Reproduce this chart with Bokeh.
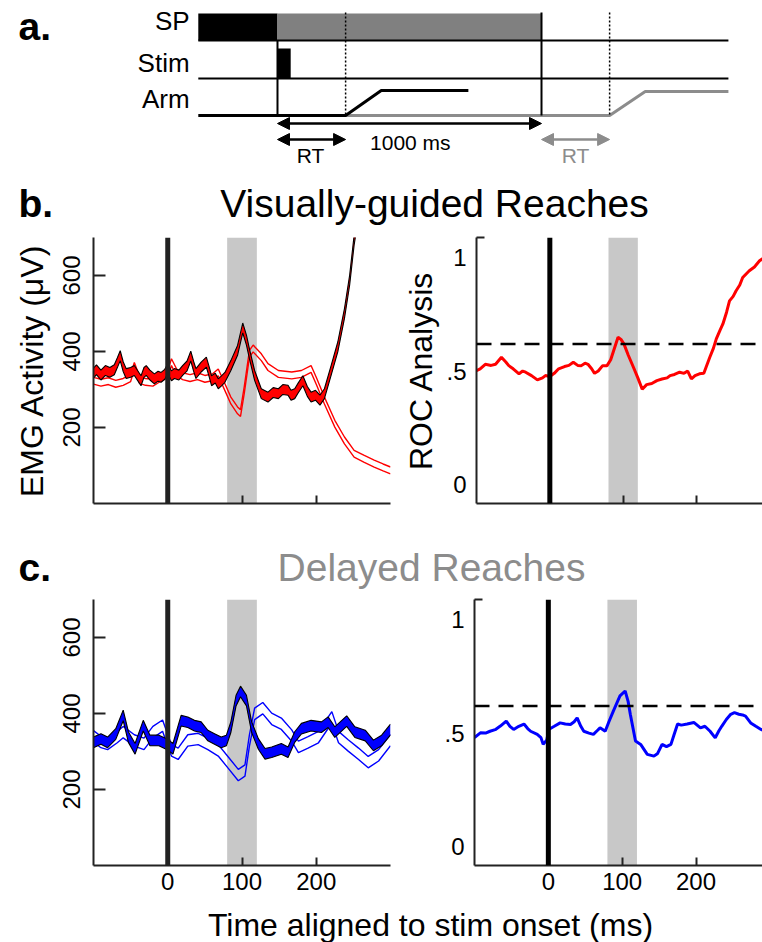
from bokeh.plotting import figure
from bokeh.layouts import column, row
from bokeh.models import Range1d, Span, BoxAnnotation, Label, FixedTicker, Arrow, NormalHead
from bokeh.embed import file_html
from bokeh.resources import INLINE

FONT = "Liberation Sans"

# ---------------- data ----------------
# panel a: timing diagram (ms)
pre_start = -300
stim_on = 0
stim_off = 50
rt_ms = 258
move_ms = 135
sp_end = 1000
arm_stop = 723
trace_end = 1708

# panel b: visually-guided reaches
t_b_fill = [-100, -96, -90, -84, -78, -72, -68, -64, -60, -56, -50, -45, -40, -36, -32, -29, -24, -18, -13, -9, -4,
            0, 5, 9, 15, 20, 26, 31, 35, 38, 45, 52, 56, 59, 64, 68, 72, 77, 85, 94, 101, 106, 110, 117, 126, 135,
            142, 149, 155, 162, 166, 171, 176, 182, 188, 193, 199, 205, 211, 220, 229, 238, 245, 251, 258, 265, 275, 300]
emg_b_fill = [343, 352, 338, 350, 345, 352, 370, 389, 360, 342, 345, 350, 335, 323, 345, 350, 338, 328, 335, 332, 340,
              355, 336, 342, 338, 350, 362, 388, 360, 342, 359, 372, 345, 323, 330, 315, 322, 332, 363, 403, 462, 430, 394, 337, 289, 280,
              292, 289, 300, 298, 285, 289, 305, 323, 295, 280, 285, 272, 289, 350, 412, 500, 588, 693, 780, 880, 1000, 1300]
emg_b_fill_se = 13

t_b_thin = [-100, -90, -80, -70, -60, -50, -45, -38, -30, -20, -10, 0, 5, 12, 20, 30, 40, 50, 60, 68, 77, 85, 94, 98,
            103, 110, 115, 126, 135, 149, 167, 180, 193, 200, 211, 225, 238, 251, 264, 278, 290, 300]
emg_b_thin = [323, 318, 322, 315, 320, 330, 362, 325, 320, 318, 330, 340, 372, 345, 335, 330, 335, 328, 332, 345, 306,
              271, 245, 238, 298, 394, 408, 385, 359, 341, 337, 341, 354, 323, 271, 210, 166, 131, 118, 105, 95, 87]
emg_b_thin_se = 9

t_roc_b = [-100, -95, -88, -80, -74, -66, -60, -56, -50, -42, -37, -33, -25, -17, -10, -6, 0, 6, 12, 20,
           26, 32, 38, 43, 48, 52, 57, 61, 66, 72, 78, 83, 87, 93, 97, 101, 107, 114, 120, 126,
           132, 139, 146, 153, 160, 164, 170, 177, 183, 188, 193, 198, 204, 210, 218, 223, 227, 232, 236, 241,
           245, 250, 254, 259, 263, 268, 272, 279, 286, 290, 300]
roc_b = [0.502, 0.51, 0.53, 0.525, 0.53, 0.561, 0.54, 0.524, 0.51, 0.488, 0.5, 0.495, 0.48, 0.461, 0.47, 0.48, 0.476, 0.49, 0.51, 0.52,
         0.525, 0.539, 0.525, 0.524, 0.535, 0.53, 0.51, 0.49, 0.5, 0.524, 0.524, 0.55, 0.59, 0.649, 0.64, 0.62, 0.57, 0.517, 0.47, 0.42,
         0.44, 0.445, 0.458, 0.465, 0.47, 0.48, 0.485, 0.495, 0.49, 0.5, 0.465, 0.48, 0.488, 0.49, 0.56, 0.6, 0.642, 0.68, 0.708, 0.76,
         0.81, 0.83, 0.855, 0.88, 0.913, 0.93, 0.943, 0.96, 0.987, 0.996, 1.0]

# panel c: delayed reaches
t_c_fill = [-100, -90, -81, -70, -60, -53, -44, -33, -24, -12, 0, 7, 18, 27, 36, 45, 54, 63, 72, 79,
            85, 92, 98, 106, 113, 122, 131, 140, 153, 162, 171, 180, 193, 207, 216, 225, 241, 252, 266, 277, 288, 300]
emg_c_fill = [324, 333, 324, 346, 395, 338, 307, 368, 329, 329, 318, 307, 381, 377, 368, 364, 342, 333, 324, 329,
              364, 434, 458, 434, 364, 320, 294, 298, 307, 298, 338, 360, 368, 364, 377, 351, 380, 351, 342, 316, 329, 358]
emg_c_fill_se = 14

t_c_thin = [-100, -90, -81, -68, -60, -45, -32, -20, -7, 5, 14, 27, 41, 54, 68, 81, 95, 104, 110, 117,
            128, 140, 153, 167, 176, 189, 203, 221, 230, 243, 257, 270, 284, 300]
emg_c_thin = [340, 325, 320, 338, 351, 329, 320, 351, 368, 303, 294, 329, 333, 320, 303, 272, 238, 250, 329, 399,
              414, 386, 373, 342, 312, 324, 338, 390, 338, 316, 294, 272, 290, 330]
emg_c_thin_se = 15

t_roc_c = [-100, -92, -85, -79, -72, -65, -57, -52, -47, -40, -33, -28, -24, -15, -10, -7, -2, 0.5, 8, 16,
           23, 30, 35, 39, 44, 48, 55, 61, 66, 70, 77, 82, 88, 97, 104, 108, 111, 118, 125, 134,
           143, 148, 154, 160, 166, 170, 175, 180, 188, 197, 206, 212, 219, 226, 231, 235, 241, 247, 252, 258,
           263, 267, 274, 281, 288, 300]
roc_c = [0.48, 0.501, 0.5, 0.508, 0.515, 0.531, 0.553, 0.53, 0.516, 0.53, 0.54, 0.52, 0.508, 0.494, 0.48, 0.45, 0.47, 0.516, 0.53, 0.545,
         0.54, 0.538, 0.55, 0.567, 0.53, 0.508, 0.5, 0.494, 0.51, 0.523, 0.508, 0.55, 0.597, 0.664, 0.686, 0.64, 0.583, 0.465, 0.45, 0.406,
         0.398, 0.41, 0.45, 0.44, 0.45, 0.49, 0.54, 0.535, 0.54, 0.547, 0.523, 0.53, 0.508, 0.479, 0.51, 0.531, 0.56, 0.583, 0.59, 0.583,
         0.58, 0.575, 0.545, 0.53, 0.516, 0.5]

roc_threshold = 0.62
stim_window = [80, 120]
x_ticks = [0, 100, 200]
emg_ticks = [200, 400, 600]
roc_ticks = [0, 0.5, 1]
roc_tick_labels = {0: "0", 0.5: ".5", 1: "1"}

# ---------------- helpers ----------------
def make_fig(width, height, xr, yr, axes=True, **kw):
    if not axes:
        kw.update(x_axis_location=None, y_axis_location=None)
    p = figure(width=width, height=height, x_range=xr, y_range=yr,
               output_backend="svg", toolbar_location=None, **kw)
    p.grid.visible = False
    p.outline_line_color = None
    p.background_fill_color = "white"
    p.border_fill_color = "white"
    return p


def txt(p, x, y, text, size_px, color="black", align="left", style="normal", shift=0):
    # y is the wanted baseline (pixels from the figure top); shift corrects the renderer's offset
    p.add_layout(Label(x=x, y=y - shift, text=text, text_font=FONT, text_font_size=f"{size_px}px",
                       text_color=color, text_align=align, text_baseline="alphabetic",
                       text_font_style=style))


def style_x(p, show_labels):
    ax = p.xaxis[0]
    if show_labels:
        ax.ticker = FixedTicker(ticks=x_ticks)
    else:
        ax.ticker = FixedTicker(ticks=[], minor_ticks=x_ticks)
    ax.axis_line_width = 2
    ax.axis_line_color = "#222222"
    ax.major_tick_in = 8
    ax.major_tick_out = 0
    ax.major_tick_line_width = 2
    ax.major_tick_line_color = "#222222"
    ax.minor_tick_in = 8
    ax.minor_tick_out = 0
    ax.minor_tick_line_width = 2
    ax.minor_tick_line_color = "#222222"
    ax.major_label_text_font = FONT
    ax.major_label_text_font_size = "24px"
    ax.major_label_text_color = "black"
    ax.major_label_standoff = 7


def emg_panel(height, top, bottom, show_x, t_fill, y_fill, se_fill, t_thin, y_thin, se_thin, color, ylabel):
    p = make_fig(400, height, Range1d(-100, 300), Range1d(0, 700),
                 min_border_left=93, min_border_right=10, min_border_top=top, min_border_bottom=bottom)
    style_x(p, show_x)
    ay = p.yaxis[0]
    ay.ticker = FixedTicker(ticks=emg_ticks)
    ay.axis_line_width = 2
    ay.axis_line_color = "#222222"
    ay.major_tick_in = 12
    ay.major_tick_out = 0
    ay.major_tick_line_width = 2
    ay.major_tick_line_color = "#222222"
    ay.minor_tick_in = 0
    ay.minor_tick_out = 0
    ay.major_label_orientation = "vertical"
    ay.major_label_text_font = FONT
    ay.major_label_text_font_size = "24px"
    ay.major_label_text_color = "black"
    ay.major_label_standoff = 14
    ay.axis_label = ylabel
    ay.axis_label_text_font = FONT
    ay.axis_label_text_font_size = "32px"
    ay.axis_label_text_font_style = "normal"
    ay.axis_label_text_color = "black"
    ay.axis_label_standoff = 10
    p.add_layout(BoxAnnotation(left=stim_window[0], right=stim_window[1], fill_color="#c8c8c8",
                               fill_alpha=1, line_color=None, level="underlay"))
    lo = [v - se_thin for v in y_thin]
    hi = [v + se_thin for v in y_thin]
    p.line(t_thin, lo, line_color=color, line_width=1.4)
    p.line(t_thin, hi, line_color=color, line_width=1.4)
    lo2 = [v - se_fill for v in y_fill]
    hi2 = [v + se_fill for v in y_fill]
    p.varea(x=t_fill, y1=lo2, y2=hi2, fill_color=color)
    p.line(t_fill, lo2, line_color="black", line_width=1.1)
    p.line(t_fill, hi2, line_color="black", line_width=1.1)
    p.add_layout(Span(location=0, dimension="height", line_color="#222222", line_width=5))
    return p


def roc_panel(height, top, bottom, show_x, t, y, color):
    y_top = 1.09
    p = make_fig(362, height, Range1d(-100, 290), Range1d(-0.085, y_top),
                 min_border_left=74, min_border_right=0, min_border_top=top, min_border_bottom=bottom)
    style_x(p, show_x)
    ay = p.yaxis[0]
    ay.ticker = FixedTicker(ticks=roc_ticks, minor_ticks=[y_top])
    ay.major_label_overrides = roc_tick_labels
    ay.axis_line_width = 2
    ay.axis_line_color = "#222222"
    ay.major_tick_in = 0
    ay.major_tick_out = 0
    ay.minor_tick_in = 8
    ay.minor_tick_out = 0
    ay.minor_tick_line_width = 2
    ay.minor_tick_line_color = "#222222"
    ay.major_label_text_font = FONT
    ay.major_label_text_font_size = "24px"
    ay.major_label_text_color = "black"
    ay.major_label_standoff = 10
    ay.axis_label = "ROC Analysis" if not show_x else None
    ay.axis_label_text_font = FONT
    ay.axis_label_text_font_size = "32px"
    ay.axis_label_text_font_style = "normal"
    ay.axis_label_text_color = "black"
    ay.axis_label_standoff = 4
    p.add_layout(BoxAnnotation(left=stim_window[0], right=stim_window[1], fill_color="#c8c8c8",
                               fill_alpha=1, line_color=None, level="underlay"))
    p.line(t, y, line_color=color, line_width=3)
    p.add_layout(Span(location=roc_threshold, dimension="width", line_color="black",
                      line_width=2.5, line_dash="15 9"))
    p.add_layout(Span(location=0, dimension="height", line_color="black", line_width=5))
    return p


# ---------------- panel a: diagram ----------------
SP_TOP, SP_BOT = 13, 40
STIM_TOP, STIM_BASE = 48, 78
ARM_LOW, ARM_HIGH, ARM_HIGH2 = 115, 90, 91
DIAG_TOP = 12
Y_ARROW_LONG, Y_ARROW_RT = 123, 139
GREY = "#8c8c8c"

pa = make_fig(762, 172, Range1d(-1049.2, 1837.1), Range1d(172, 0), axes=False, min_border=0)
pa.quad(left=[pre_start], right=[stim_on], top=[SP_TOP], bottom=[SP_BOT], fill_color="black", line_color=None)
pa.quad(left=[stim_on], right=[sp_end], top=[SP_TOP], bottom=[SP_BOT], fill_color="#808080", line_color=None)
pa.line([pre_start, trace_end], [SP_BOT, SP_BOT], line_color="black", line_width=2)
pa.quad(left=[stim_on], right=[stim_off], top=[STIM_TOP], bottom=[STIM_BASE], fill_color="black", line_color=None)
pa.line([pre_start, trace_end], [STIM_BASE, STIM_BASE], line_color="black", line_width=2)
pa.line([rt_ms, sp_end + rt_ms, sp_end + rt_ms + move_ms, trace_end],
        [ARM_LOW, ARM_LOW, ARM_HIGH2, ARM_HIGH2], line_color=GREY, line_width=3)
pa.line([pre_start, rt_ms, rt_ms + move_ms, arm_stop],
        [ARM_LOW, ARM_LOW, ARM_HIGH, ARM_HIGH], line_color="black", line_width=3)
pa.segment(x0=[stim_on, sp_end], y0=[SP_BOT, DIAG_TOP], x1=[stim_on, sp_end], y1=[ARM_LOW, ARM_LOW],
           line_color="black", line_width=2)
pa.segment(x0=[rt_ms, sp_end + rt_ms], y0=[DIAG_TOP, DIAG_TOP], x1=[rt_ms, sp_end + rt_ms], y1=[ARM_LOW, ARM_LOW],
           line_color="black", line_width=1.5, line_dash="2 2")
for xs, xe, yy, col in [(stim_on, sp_end, Y_ARROW_LONG, "black"), (stim_on, rt_ms, Y_ARROW_RT, "black"),
                        (sp_end, sp_end + rt_ms, Y_ARROW_RT, GREY)]:
    pa.add_layout(Arrow(x_start=xs, x_end=xe, y_start=yy, y_end=yy, line_color=col, line_width=2.5,
                        start=NormalHead(size=12, fill_color=col, line_color=col),
                        end=NormalHead(size=12, fill_color=col, line_color=col)))
txt(pa, -981, 40, "a.", 39, style="bold", shift=14)
txt(pa, -333, 31, "SP", 26, align="right", shift=11)
txt(pa, -333, 73, "Stim", 26, align="right", shift=11)
txt(pa, -333, 109, "Arm", 26, align="right", shift=11)
txt(pa, 503, 149, "1000 ms", 21, align="center", shift=7)
txt(pa, 125, 162, "RT", 21, align="center", shift=7)
txt(pa, 1129, 162, "RT", 21, color=GREY, align="center", shift=7)

# ---------------- headers ----------------
hb = make_fig(762, 62, Range1d(0, 762), Range1d(62, 0), axes=False, min_border=0)
txt(hb, 18, 45, "b.", 39, style="bold", shift=14)
txt(hb, 434, 45, "Visually-guided Reaches", 39, align="center", shift=14)

hc = make_fig(762, 81, Range1d(0, 762), Range1d(81, 0), axes=False, min_border=0)
txt(hc, 18, 65, "c.", 39, style="bold", shift=12)
txt(hc, 431, 65, "Delayed Reaches", 39, color="#8c8c8c", align="center", shift=12)

hx = make_fig(762, 43, Range1d(0, 762), Range1d(43, 0), axes=False, min_border=0)
txt(hx, 430, 36, "Time aligned to stim onset (ms)", 32, align="center", shift=11)

# ---------------- panels b, c ----------------
b1 = emg_panel(280, 3, 11, False, t_b_fill, emg_b_fill, emg_b_fill_se, t_b_thin, emg_b_thin, emg_b_thin_se,
               "#ff0000", "EMG Activity (μV)")
b2 = roc_panel(280, 3, 11, False, t_roc_b, roc_b, "#ff0000")
c1 = emg_panel(304, 4, 34, True, t_c_fill, emg_c_fill, emg_c_fill_se, t_c_thin, emg_c_thin, emg_c_thin_se,
               "#0000ff", None)
c2 = roc_panel(304, 4, 34, True, t_roc_c, roc_c, "#0000ff")

layout = column(pa, hb, row(b1, b2), hc, row(c1, c2), hx)

open("out.html", "w").write(file_html(layout, INLINE))
